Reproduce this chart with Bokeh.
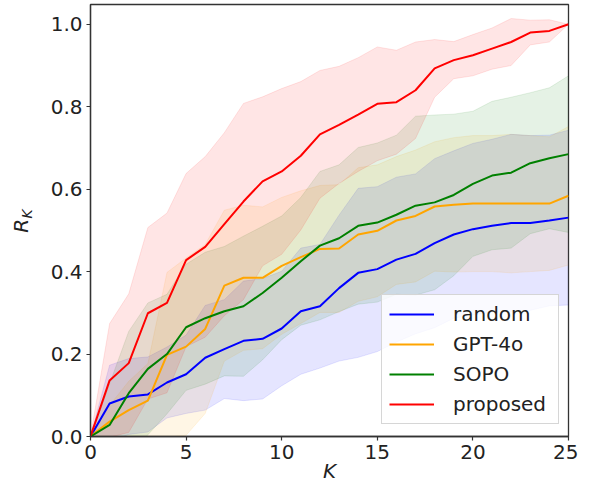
from bokeh.plotting import figure
from bokeh.models import (Range1d, FixedTicker, PrintfTickFormatter, Legend,
                          LegendItem, LinearAxis)
from bokeh.embed import file_html
from bokeh.resources import INLINE

# ---- data ----
K = list(range(26))

random_mean = [0.0, 0.080, 0.097, 0.102, 0.131, 0.151, 0.191, 0.212, 0.232, 0.237,
               0.262, 0.304, 0.316, 0.360, 0.397, 0.406, 0.429, 0.443, 0.469, 0.490,
               0.503, 0.511, 0.518, 0.518, 0.524, 0.531]
random_std = [0.0, 0.093, 0.092, 0.091, 0.086, 0.095, 0.127, 0.120, 0.145, 0.146,
              0.139, 0.153, 0.150, 0.177, 0.205, 0.200, 0.200, 0.194, 0.205, 0.203,
              0.208, 0.210, 0.215, 0.212, 0.207, 0.212]

gpt4o_mean = [0.0, 0.036, 0.064, 0.087, 0.198, 0.218, 0.261, 0.366, 0.385, 0.385,
              0.414, 0.435, 0.455, 0.456, 0.490, 0.499, 0.524, 0.535, 0.558, 0.562,
              0.565, 0.565, 0.565, 0.565, 0.565, 0.584]
gpt4o_std = [0.0, 0.040, 0.070, 0.090, 0.200, 0.215, 0.205, 0.183, 0.176, 0.172,
             0.166, 0.161, 0.154, 0.155, 0.162, 0.160, 0.155, 0.160, 0.157, 0.163,
             0.165, 0.165, 0.168, 0.165, 0.162, 0.168]

sopo_mean = [0.0, 0.028, 0.105, 0.164, 0.200, 0.265, 0.287, 0.304, 0.316, 0.348,
             0.385, 0.425, 0.463, 0.481, 0.511, 0.519, 0.538, 0.560, 0.568, 0.586,
             0.613, 0.633, 0.640, 0.663, 0.675, 0.685]
sopo_std = [0.0, 0.100, 0.150, 0.160, 0.145, 0.153, 0.160, 0.157, 0.170, 0.162,
            0.150, 0.155, 0.180, 0.178, 0.190, 0.193, 0.193, 0.217, 0.212, 0.196,
            0.176, 0.180, 0.183, 0.171, 0.171, 0.190]

proposed_mean = [0.0, 0.136, 0.178, 0.299, 0.324, 0.428, 0.460, 0.515, 0.570, 0.619,
                 0.643, 0.681, 0.733, 0.756, 0.781, 0.807, 0.811, 0.840, 0.893, 0.913,
                 0.925, 0.941, 0.957, 0.980, 0.984, 1.000]
proposed_std = [0.0, 0.138, 0.168, 0.208, 0.218, 0.210, 0.219, 0.222, 0.238, 0.205,
                0.201, 0.180, 0.155, 0.142, 0.138, 0.138, 0.126, 0.117, 0.070, 0.045,
                0.050, 0.050, 0.057, 0.030, 0.027, 0.0]

series_names = ["random", "GPT-4o", "SOPO", "proposed"]
series_colors = ["blue", "orange", "green", "red"]
series_means = [random_mean, gpt4o_mean, sopo_mean, proposed_mean]
series_stds = [random_std, gpt4o_std, sopo_std, proposed_std]

x_ticks = [0, 5, 10, 15, 20, 25]
y_ticks = [0.0, 0.2, 0.4, 0.6, 0.8, 1.0]

FONT = "DejaVu Sans"
TXT = "#222222"

p = figure(width=578, height=487, output_backend="svg", toolbar_location=None,
           x_range=Range1d(0, 25), y_range=Range1d(0, 1.048),
           min_border_left=90, min_border_right=10, min_border_top=4,
           min_border_bottom=51)
p.background_fill_color = "white"
p.border_fill_color = "white"
p.outline_line_color = "#333333"
p.outline_line_width = 1.3
p.xgrid.visible = False
p.ygrid.visible = False

# bands first
for c, m, s in zip(series_colors, series_means, series_stds):
    lower = [a - b for a, b in zip(m, s)]
    upper = [a + b for a, b in zip(m, s)]
    p.varea(x=K, y1=lower, y2=upper, fill_color=c, fill_alpha=0.1)
    p.line(K, upper, line_color=c, line_alpha=0.1, line_width=1)
    p.line(K, lower, line_color=c, line_alpha=0.1, line_width=1)

renderers = []
for c, m in zip(series_colors, series_means):
    r = p.line(K, m, line_color=c, line_width=2)
    renderers.append(r)

# axes
for ax in (p.xaxis[0], p.yaxis[0]):
    ax.axis_line_color = "#333333"
    ax.axis_line_width = 1.3
    ax.major_tick_line_color = "#333333"
    ax.major_tick_line_width = 1.2
    ax.major_tick_out = 4
    ax.major_tick_in = 0
    ax.minor_tick_line_color = None
    ax.major_label_text_font = FONT
    ax.major_label_text_font_size = "20px"
    ax.major_label_text_color = TXT
    ax.major_label_standoff = 4

p.xaxis.ticker = FixedTicker(ticks=x_ticks)
p.yaxis.ticker = FixedTicker(ticks=y_ticks)
p.yaxis.formatter = PrintfTickFormatter(format="%.1f")

p.xaxis.axis_label = "K"
p.xaxis.axis_label_text_font = FONT
p.xaxis.axis_label_text_font_style = "italic"
p.xaxis.axis_label_text_font_size = "20px"
p.xaxis.axis_label_text_color = TXT
p.xaxis.axis_label_standoff = -3


def label_axis(text, size, standoff):
    ax = LinearAxis(ticker=FixedTicker(ticks=[]), axis_label=text)
    ax.axis_line_color = None
    ax.major_tick_out = 0
    ax.major_tick_in = 0
    ax.minor_tick_out = 0
    ax.minor_tick_in = 0
    ax.major_label_standoff = 0
    ax.major_label_text_font_size = "0px"
    ax.axis_label_text_font = FONT
    ax.axis_label_text_font_style = "italic"
    ax.axis_label_text_font_size = size
    ax.axis_label_text_color = TXT
    ax.axis_label_standoff = standoff
    return ax

# y label R_K: subscript K (inner), then R (outer, pulled inward)
p.add_layout(label_axis("\u00a0\u00a0\u00a0K", "14px", 13), "left")
p.add_layout(label_axis("R\u00a0\u2009", "20px", -17), "left")

legend = Legend(items=[LegendItem(label=n, renderers=[r]) for n, r in zip(series_names, renderers)],
                location=(291, 12))
legend.label_text_font = FONT
legend.label_text_font_size = "20px"
legend.label_text_color = TXT
legend.glyph_width = 45
legend.glyph_height = 20
legend.label_height = 20
legend.label_width = 98
legend.label_standoff = 19
legend.spacing = 6
legend.padding = 7
legend.margin = 0
legend.border_line_color = "#cccccc"
legend.border_line_alpha = 0.8
legend.background_fill_alpha = 0.8
p.add_layout(legend)

open("out.html", "w").write(file_html(p, INLINE))
